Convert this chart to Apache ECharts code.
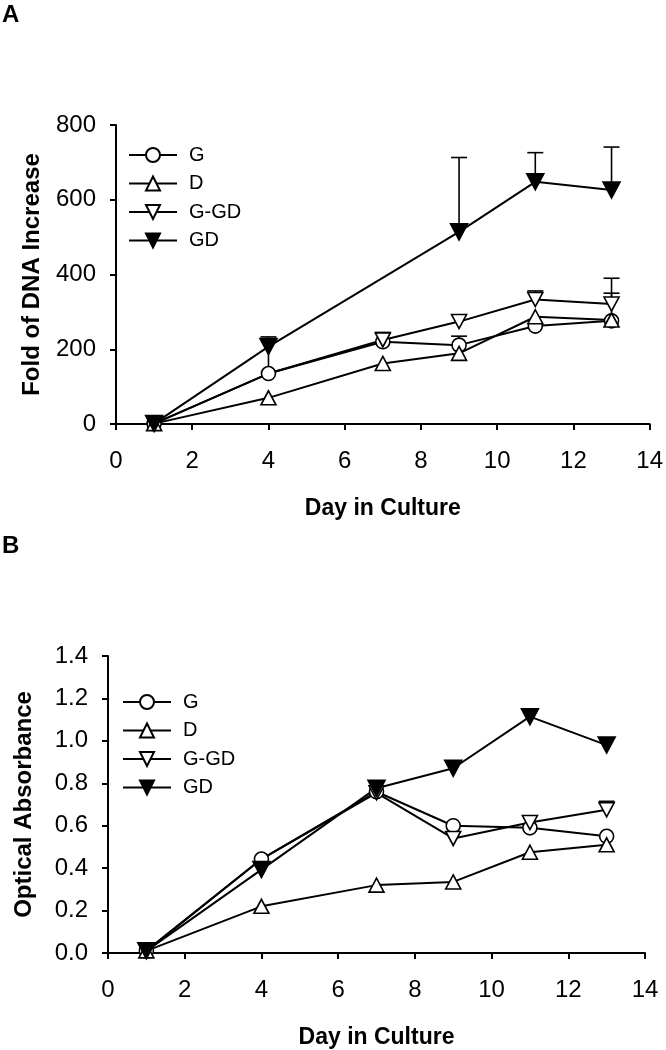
<!DOCTYPE html>
<html>
<head>
<meta charset="utf-8">
<script src="https://cdn.jsdelivr.net/npm/echarts@6/dist/echarts.min.js"></script>
<style>html,body{margin:0;padding:0;background:#fff}#c{width:666px;height:1050px}</style>
</head>
<body>
<div id="c"></div>
<script>
// ---- data ----
const days = [1, 4, 7, 9, 11, 13];
const xTicks = [0, 2, 4, 6, 8, 10, 12, 14];
const seriesNames = ['G', 'D', 'G-GD', 'GD'];

// Panel A: Fold of DNA Increase
const dnaG   = [1, 135, 220, 211, 262, 276];
const dnaD   = [1, 70, 162, 189, 287, 278];
const dnaGGD = [1, 135, 225, 274, 333, 321];
const dnaGD  = [1, 207, null, 514, 648, 626];
// upper error-bar ends (panel A)
const dnaErrG   = [null, 233, null, 235, null, 350];
const dnaErrGGD = [null, null, 245, null, 356, 390];
const dnaErrGD  = [null, null, null, 713, 726, 741];

// Panel B: Optical Absorbance
const absG   = [0.01, 0.443, 0.76, 0.60, 0.59, 0.55];
const absD   = [0.01, 0.22, 0.32, 0.335, 0.475, 0.51];
const absGGD = [0.01, 0.443, 0.755, 0.54, 0.615, 0.675];
const absGD  = [0.01, 0.393, 0.777, 0.871, 1.114, 0.98];
// upper error-bar ends (panel B)
const absErrGD  = [null, null, null, null, 1.15, null];
const absErrGGD = [null, null, null, null, null, 0.715];

// G-GD shares the G point at day 4 (its marker sits hidden behind G's)
const hiddenMarkerDays = {'G-GD': [4]};

// ---- styling ----
const FONT = 'Liberation Sans, Arial, sans-serif';
const downTri = 'path://M0,0L20,0L10,18Z';
const styles = {
  'G':    {symbol: 'circle',   size: 14,       fill: '#fff'},
  'D':    {symbol: 'triangle', size: [15, 14], fill: '#fff'},
  'G-GD': {symbol: downTri,    size: [15, 14], fill: '#fff'},
  'GD':   {symbol: downTri,    size: [17, 16], fill: '#000'}
};

function pairs(name, vals) {
  const hide = hiddenMarkerDays[name] || [];
  return days.map((d, i) => hide.indexOf(d) >= 0 ? {value: [d, vals[i]], symbol: 'none'} : [d, vals[i]]);
}

function lineSeries(name, vals, idx) {
  const s = styles[name];
  return {
    name: name, type: 'line', xAxisIndex: idx, yAxisIndex: idx,
    data: pairs(name, vals), connectNulls: true,
    symbol: s.symbol, symbolSize: s.size, showAllSymbol: true,
    lineStyle: {color: '#000', width: 2},
    itemStyle: {color: s.fill, borderColor: '#000', borderWidth: 1.6},
    emphasis: {disabled: true}, animation: false, z: 3
  };
}

function errSeries(upper, base, idx) {
  const data = [];
  days.forEach((d, i) => { if (upper[i] != null) data.push([d, base[i], upper[i]]); });
  return {
    type: 'custom', xAxisIndex: idx, yAxisIndex: idx, data: data, z: 2,
    animation: false, silent: true,
    renderItem: function (params, api) {
      const p0 = api.coord([api.value(0), api.value(1)]);
      const p1 = api.coord([api.value(0), api.value(2)]);
      const hw = 8;
      return {
        type: 'group',
        children: [
          {type: 'line', shape: {x1: p0[0], y1: p0[1], x2: p1[0], y2: p1[1]}, style: {stroke: '#000', lineWidth: 1.6}},
          {type: 'line', shape: {x1: p1[0] - hw, y1: p1[1], x2: p1[0] + hw, y2: p1[1]}, style: {stroke: '#000', lineWidth: 1.6}}
        ]
      };
    }
  };
}

function xAxis(gridIndex) {
  return {
    type: 'value', gridIndex: gridIndex, min: 0, max: 14, interval: 2,
    name: 'Day in Culture', nameLocation: 'middle', nameGap: 73,
    nameTextStyle: {fontFamily: FONT, fontSize: 23, fontWeight: 'bold', color: '#000'},
    axisLine: {show: true, onZero: false, lineStyle: {color: '#000', width: 2}},
    axisTick: {show: true, inside: false, length: 6, lineStyle: {color: '#000', width: 2}},
    axisLabel: {fontFamily: FONT, fontSize: 24, color: '#000', margin: 25},
    splitLine: {show: false}
  };
}

function yAxis(gridIndex, max, interval, name, fmt) {
  return {
    type: 'value', gridIndex: gridIndex, min: 0, max: max, interval: interval,
    name: name, nameLocation: 'middle', nameGap: 72, nameRotate: 90,
    nameTextStyle: {fontFamily: FONT, fontSize: 24, fontWeight: 'bold', color: '#000'},
    axisLine: {show: true, onZero: false, lineStyle: {color: '#000', width: 2}},
    axisTick: {show: true, inside: false, length: 6, lineStyle: {color: '#000', width: 2}},
    axisLabel: {fontFamily: FONT, fontSize: 24, color: '#000', margin: 20, formatter: fmt},
    splitLine: {show: false}
  };
}

function legend(idx, left, top) {
  return {
    show: true, orient: 'vertical', left: left, top: top,
    data: seriesNames, padding: 0,
    itemWidth: 48, itemHeight: 17.5, itemGap: 8.5,
    selectedMode: false, inactiveColor: '#000',
    textStyle: {fontFamily: FONT, fontSize: 20, color: '#000', padding: [0, 0, 0, 7]},
    id: 'lg' + idx
  };
}

const chart = echarts.init(document.getElementById('c'), null, {renderer: 'canvas'});

const series = [
  lineSeries('G', dnaG, 0),
  lineSeries('D', dnaD, 0),
  lineSeries('G-GD', dnaGGD, 0),
  lineSeries('GD', dnaGD, 0),
  errSeries(dnaErrG, dnaG, 0),
  errSeries(dnaErrGGD, dnaGGD, 0),
  errSeries(dnaErrGD, dnaGD, 0),
  lineSeries('G', absG, 1),
  lineSeries('D', absD, 1),
  lineSeries('G-GD', absGGD, 1),
  lineSeries('GD', absGD, 1),
  errSeries(absErrGD, absGD, 1),
  errSeries(absErrGGD, absGGD, 1)
];

chart.setOption({
  backgroundColor: '#fff',
  animation: false,
  title: [
    {text: 'A', left: 2, top: 3, padding: 0, textStyle: {fontFamily: FONT, fontSize: 24, fontWeight: 'bold', color: '#000'}},
    {text: 'B', left: 2, top: 534, padding: 0, textStyle: {fontFamily: FONT, fontSize: 24, fontWeight: 'bold', color: '#000'}}
  ],
  grid: [
    {left: 116, top: 125, width: 535, height: 299},
    {left: 108, top: 656, width: 537, height: 297.5}
  ],
  xAxis: [xAxis(0), xAxis(1)],
  yAxis: [
    yAxis(0, 800, 200, 'Fold of DNA Increase', v => String(v)),
    yAxis(1, 1.4, 0.2, 'Optical Absorbance', v => v.toFixed(1))
  ],
  legend: [legend(0, 128, 145), legend(1, 122, 692)],
  series: series
});
</script>
</body>
</html>
